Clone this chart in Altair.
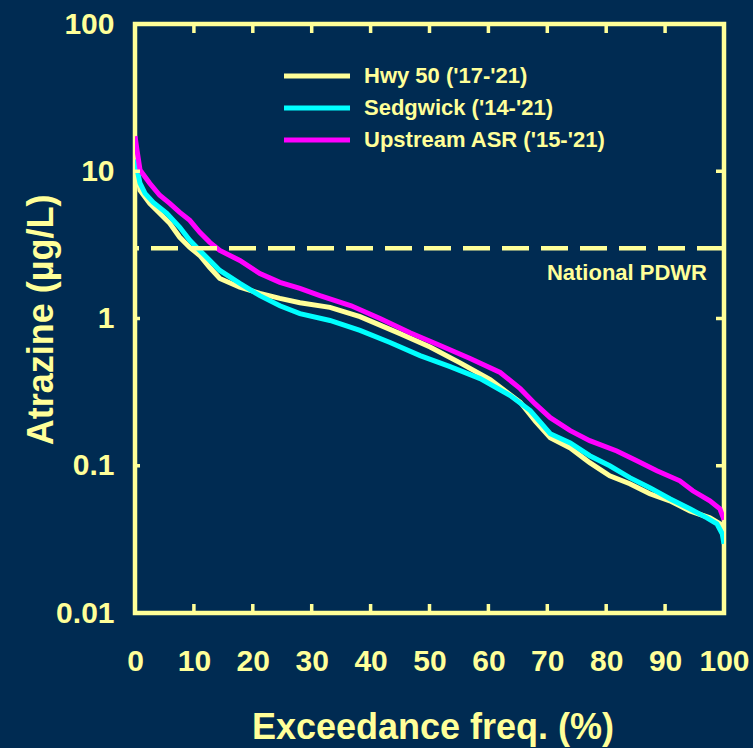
import altair as alt
import pandas as pd

# ---- data ----
series_names = ["Hwy 50 ('17-'21)", "Sedgwick ('14-'21)", "Upstream ASR ('15-'21)"]
series_colors = ["#ffff99", "#00ffff", "#ff00ff"]

hwy_freq = [0, 0.85, 2.5, 4.2, 5.9, 7.6, 9.3, 11.0, 12.7, 14.4, 17.8, 21.2, 24.6, 28.0,
            33.1, 38.2, 45.0, 50.1, 55.2, 60.3, 65.4, 68.0, 70.5, 73.9, 77.2, 80.6, 84.0,
            87.4, 90.8, 94.2, 97.6, 99.3, 100]
hwy_conc = [13.0, 7.43, 6.06, 5.18, 4.43, 3.56, 3.04, 2.68, 2.22, 1.87, 1.63, 1.48, 1.37, 1.28,
            1.19, 1.03, 0.79, 0.64, 0.50, 0.385, 0.27, 0.20, 0.155, 0.132, 0.105, 0.0855, 0.0755,
            0.0645, 0.0578, 0.0494, 0.0443, 0.0403, 0.0379]

sed_freq = [0, 0.85, 1.7, 3.1, 5.4, 7.6, 9.3, 11.0, 14.4, 17.8, 21.2, 24.6, 28.0, 33.1, 38.2,
            43.3, 48.4, 53.5, 58.6, 63.7, 67.1, 70.5, 73.9, 77.2, 80.6, 84.0, 87.4, 90.8, 94.2,
            97.1, 98.8, 99.7, 100]
sed_conc = [12.0, 8.3, 7.08, 6.15, 5.18, 4.16, 3.40, 2.90, 2.12, 1.73, 1.43, 1.22, 1.08, 0.97, 0.83,
            0.687, 0.56, 0.471, 0.391, 0.30, 0.237, 0.165, 0.143, 0.117, 0.100, 0.083, 0.071, 0.0597,
            0.051, 0.0443, 0.0403, 0.0345, 0.0295]

asr_freq = [0, 0.34, 0.85, 2.5, 4.2, 5.9, 7.6, 9.3, 11.0, 12.7, 14.4, 17.8, 21.2, 24.6, 28.0,
            31.4, 36.7, 41.6, 46.7, 51.8, 56.9, 62.0, 65.4, 67.9, 70.5, 73.9, 77.2, 81.8, 85.2,
            88.6, 92.5, 94.7, 97.6, 99.3, 100]
asr_conc = [17.3, 13.9, 10.2, 8.28, 6.87, 6.06, 5.26, 4.64, 3.85, 3.29, 2.90, 2.48, 2.02, 1.76, 1.60,
            1.43, 1.22, 1.0, 0.80, 0.655, 0.535, 0.43, 0.334, 0.264, 0.212, 0.173, 0.148, 0.126, 0.108,
            0.0925, 0.079, 0.0676, 0.0578, 0.051, 0.043]

x_ticks = [0, 10, 20, 30, 40, 50, 60, 70, 80, 90, 100]
y_ticks = [0.01, 0.1, 1, 10, 100]
pdwr_value = 3
pdwr_label = "National PDWR"

# ---- styling ----
BG = "#002b52"
FG = "#ffff99"
FONT = "Liberation Sans"
W = 589
H = 589

rows = []
for name, fr, cc in zip(series_names, [hwy_freq, sed_freq, asr_freq], [hwy_conc, sed_conc, asr_conc]):
    for i, (f, c) in enumerate(zip(fr, cc)):
        rows.append({"series": name, "freq": f, "conc": c, "idx": i})
df = pd.DataFrame(rows)

xscale = alt.Scale(domain=[0, 100], nice=False, zero=False)
yscale = alt.Scale(type="log", domain=[0.01, 100], nice=False)

xaxis = alt.Axis(values=x_ticks, title="Exceedance freq. (%)", ticks=False, domain=False,
                 grid=False, labelFlush=False, labelOverlap=False,
                 labelBaseline="alphabetic", labelPadding=57,
                 titleX=W / 2 + 3, titleY=125, titleBaseline="alphabetic")
yaxis = alt.Axis(values=y_ticks, format="~g", title="Atrazine (µg/L)", ticks=False,
                 domain=False, grid=False, labelFlush=False, labelOverlap=False,
                 labelPadding=21, titleX=-83, titleY=H / 2 + 1,
                 titleBaseline="alphabetic", titleAngle=-90)

lines = alt.Chart(df).mark_line(strokeWidth=5, clip=True).encode(
    x=alt.X("freq:Q", scale=xscale, axis=xaxis, title="Exceedance freq. (%)"),
    y=alt.Y("conc:Q", scale=yscale, axis=yaxis, title="Atrazine (µg/L)"),
    color=alt.Color("series:N", scale=alt.Scale(domain=series_names, range=series_colors),
                    sort=series_names,
                    legend=alt.Legend(orient="none", legendX=171, legendY=41, title=None,
                                      symbolType="M-6,0H6", symbolSize=121,
                                      symbolStrokeWidth=5, labelFontSize=22,
                                      labelFont=FONT, labelFontWeight="bold",
                                      labelColor=FG, labelOffset=36, rowPadding=10,
                                      labelLimit=0, padding=0)),
    order="idx:Q",
)

pdwr_df = pd.DataFrame({"v": [pdwr_value], "f": [100], "label": [pdwr_label]})
pdwr_rule = alt.Chart(pdwr_df).mark_rule(color=FG, strokeWidth=4.5, strokeDash=[27, 12]).encode(
    y=alt.Y("v:Q", scale=yscale, axis=yaxis, title="Atrazine (µg/L)")
)
pdwr_text = alt.Chart(pdwr_df).mark_text(
    color=FG, font=FONT, fontSize=22, fontWeight="bold", align="right", baseline="middle",
    dx=-17, dy=25
).encode(
    x=alt.X("f:Q", scale=xscale, axis=xaxis, title="Exceedance freq. (%)"),
    y=alt.Y("v:Q", scale=yscale, axis=yaxis, title="Atrazine (µg/L)"),
    text="label:N",
)

xt = pd.DataFrame({"t": x_ticks})
yt = pd.DataFrame({"t": y_ticks})
tick_bottom = alt.Chart(xt).mark_rule(color=FG, strokeWidth=3.5).encode(
    x=alt.X("t:Q", scale=xscale, axis=xaxis, title="Exceedance freq. (%)"),
    y=alt.value(H), y2=alt.value(H - 9))
tick_top = alt.Chart(xt).mark_rule(color=FG, strokeWidth=3.5).encode(
    x=alt.X("t:Q", scale=xscale, axis=xaxis, title="Exceedance freq. (%)"),
    y=alt.value(0), y2=alt.value(9))
tick_left = alt.Chart(yt).mark_rule(color=FG, strokeWidth=3.5).encode(
    y=alt.Y("t:Q", scale=yscale, axis=yaxis, title="Atrazine (µg/L)"),
    x=alt.value(0), x2=alt.value(5))
tick_right = alt.Chart(yt).mark_rule(color=FG, strokeWidth=3.5).encode(
    y=alt.Y("t:Q", scale=yscale, axis=yaxis, title="Atrazine (µg/L)"),
    x=alt.value(W), x2=alt.value(W - 8))

chart = alt.layer(
    lines, pdwr_rule, pdwr_text, tick_bottom, tick_top, tick_left, tick_right
).properties(
    width=W, height=H, background=BG,
    padding={"left": 135, "top": 24, "right": 29, "bottom": 135},
    autosize=alt.AutoSizeParams(type="none"),
).configure_view(
    stroke=FG, strokeWidth=4.5, fill=BG
).configure_axis(
    labelFont=FONT, labelFontSize=30, labelFontWeight="bold", labelColor=FG,
    titleFont=FONT, titleFontSize=36, titleFontWeight="bold", titleColor=FG,
)

chart.save("out.html", embed_options={"renderer": "svg", "actions": False})
